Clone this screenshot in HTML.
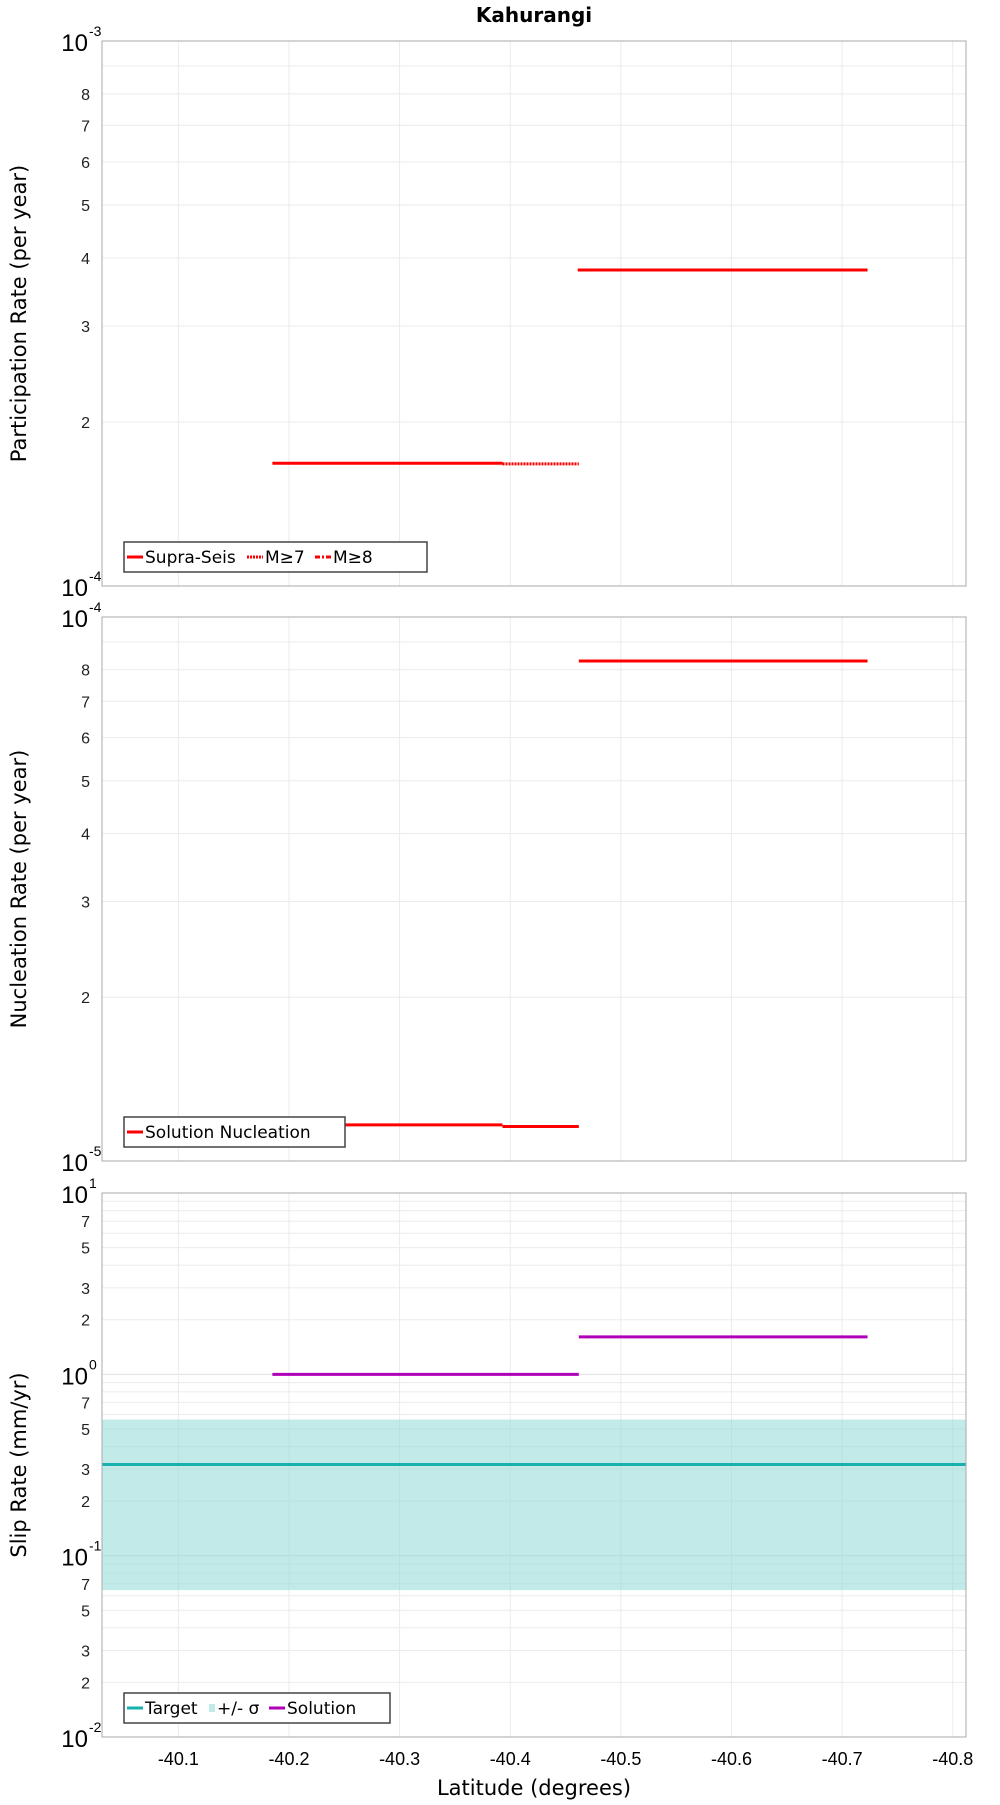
<!DOCTYPE html>
<html><head><meta charset="utf-8"><style>
body{margin:0;background:#fff;font-family:"Liberation Sans",sans-serif}
svg text{font-family:"Liberation Sans","DejaVu Sans",sans-serif}
svg text.dj{font-family:"DejaVu Sans","Liberation Sans",sans-serif}
</style></head><body>
<svg id="c" width="1000" height="1800" xmlns="http://www.w3.org/2000/svg">
<text x="534" y="22" text-anchor="middle" font-size="20" font-weight="bold" class="dj">Kahurangi</text>
</svg>
<script>
const xTicks=[-40.1,-40.2,-40.3,-40.4,-40.5,-40.6,-40.7,-40.8];
const partLat=[-40.185,-40.393,-40.462];
const partSupra=[1.68e-4,1.68e-4];
const partM7=[1.68e-4,1.675e-4];
const partLat2=[-40.461,-40.723];
const partSupra2=[3.8e-4];
const nuclLat=[-40.185,-40.393,-40.462,-40.723];
const nuclVals=[1.165e-5,1.157e-5,8.3e-5];
const solLat=[-40.185,-40.462,-40.723];
const solVals=[1.0,1.61];
const targetVal=0.318, sigmaLo=0.0646, sigmaHi=0.563;

const svg=document.getElementById('c');
const NS='http://www.w3.org/2000/svg';
const L=102,R=966,X0=-40.031,X1=-40.812;
const xs=v=>L+(v-X0)/(X1-X0)*(R-L);
function el(t,a,p){const e=document.createElementNS(NS,t);for(const k in a)e.setAttribute(k,a[k]);(p||svg).appendChild(e);return e;}
function panel(name,top,bot,d0,d1,minors,ylabel){
  const g=el('g',{});
  
  
  const ys=v=>bot-(Math.log10(v)-d0)/(d1-d0)*(bot-top);
  for(let d=d0;d<d1;d++){for(let m=2;m<=9;m++){const y=ys(m*Math.pow(10,d));
    el('line',{x1:L,x2:R,y1:y,y2:y,stroke:'#ebebeb'},g);
    if(minors.includes(m)){const t=el('text',{x:L-12,y:y+6,'text-anchor':'end','font-size':16,fill:'#222'},g);t.textContent=m;}}}
  for(let d=d0;d<=d1;d++){const y=ys(Math.pow(10,d));
    if(d>d0&&d<d1)el('line',{x1:L,x2:R,y1:y,y2:y,stroke:'#e0e0e0'},g);
    const t=el('text',{x:L-14,y:y+10,'text-anchor':'end','font-size':24,fill:'#000'},g);t.textContent='10';
    const s=el('text',{x:L-13,y:y-5,'font-size':14,fill:'#000'},g);s.textContent=d;}
  xTicks.forEach(v=>el('line',{x1:xs(v),x2:xs(v),y1:top,y2:bot,stroke:'#ebebeb'},g));
  const yl=el('text',{transform:`translate(26,${(top+bot)/2}) rotate(-90)`,'text-anchor':'middle','font-size':21,class:'dj'},g);
  yl.textContent=ylabel;
  return {g,ys,top,bot};
}
function frame(p){el('rect',{x:L,y:p.top,width:R-L,height:p.bot-p.top,fill:'none',stroke:'#aaa'},p.g);}
function seg(p,x1,x2,v,col,dash,name){const l=el('line',{x1:xs(x1),x2:xs(x2),y1:p.ys(v),y2:p.ys(v),stroke:col,'stroke-width':3},p.g);
  if(dash)l.setAttribute('stroke-dasharray',dash);
  
  }
function legend(p,w,items){const y=p.bot-44;const g=el('g',{},p.g);
  
  
  el('rect',{x:124,y:y,width:w,height:30,fill:'#fff',stroke:'#444','stroke-width':1.5},g);
  let x=127;items.forEach(it=>{
    if(it.band)el('rect',{x:x,y:y+11,width:6,height:8,fill:'#c0ebe9'},g);
    else{const l=el('line',{x1:x,x2:x+16,y1:y+15,y2:y+15,stroke:it.c,'stroke-width':3},g);if(it.d)l.setAttribute('stroke-dasharray',it.d);}
    x+=it.band?8:18;
    const t=el('text',{x:x,y:y+21,'font-size':17,class:'dj'},g);t.textContent=it.t;
    
    
    x+=it.w;});
}
// Panel 1
const p1=panel('participation-panel',41,586,-4,-3,[2,3,4,5,6,7,8],'Participation Rate (per year)');
seg(p1,partLat[0],partLat[1],partSupra[0],'#f00',null,'supra-seis-line');
seg(p1,partLat[1],partLat[2],partM7[1],'#f00','2,1','m7-line');
seg(p1,partLat2[0],partLat2[1],partSupra2[0],'#f00',null,'supra-seis-line-2');
frame(p1);
legend(p1,303,[{c:'#f00',t:'Supra-Seis',w:102},{c:'#f00',d:'2,1',t:'M≥7',w:50},{c:'#f00',d:'5,2,2,2',t:'M≥8',w:40}]);
// Panel 2
const p2=panel('nucleation-panel',617,1161,-5,-4,[2,3,4,5,6,7,8],'Nucleation Rate (per year)');
for(let i=0;i<nuclVals.length;i++)seg(p2,nuclLat[i],nuclLat[i+1],nuclVals[i],'#f00',null,'nucleation-line');
frame(p2);
legend(p2,221,[{c:'#f00',t:'Solution Nucleation',w:190}]);
// Panel 3
const p3=panel('slip-rate-panel',1193,1737,-2,1,[2,3,5,7],'Slip Rate (mm/yr)');
const band=el('rect',{x:L,y:p3.ys(sigmaHi),width:R-L,height:p3.ys(sigmaLo)-p3.ys(sigmaHi),fill:'#8fd9d5','fill-opacity':0.55},p3.g);


seg(p3,X0,X1,targetVal,'#17b0ac',null,'target-line');
for(let i=0;i<solVals.length;i++)seg(p3,solLat[i],solLat[i+1],solVals[i],'#b000b8',null,'solution-line');
frame(p3);
legend(p3,266,[{c:'#17b0ac',t:'Target',w:64},{band:1,t:'+/- σ',w:52},{c:'#b000b8',t:'Solution',w:90}]);
// x axis
xTicks.forEach(v=>{const t=el('text',{x:xs(v),y:1765,'text-anchor':'middle','font-size':18});t.textContent=v.toFixed(1);
  
  });
const xt=el('text',{x:534,y:1795,'text-anchor':'middle','font-size':21,class:'dj'});xt.textContent='Latitude (degrees)';


</script>
</body></html>
